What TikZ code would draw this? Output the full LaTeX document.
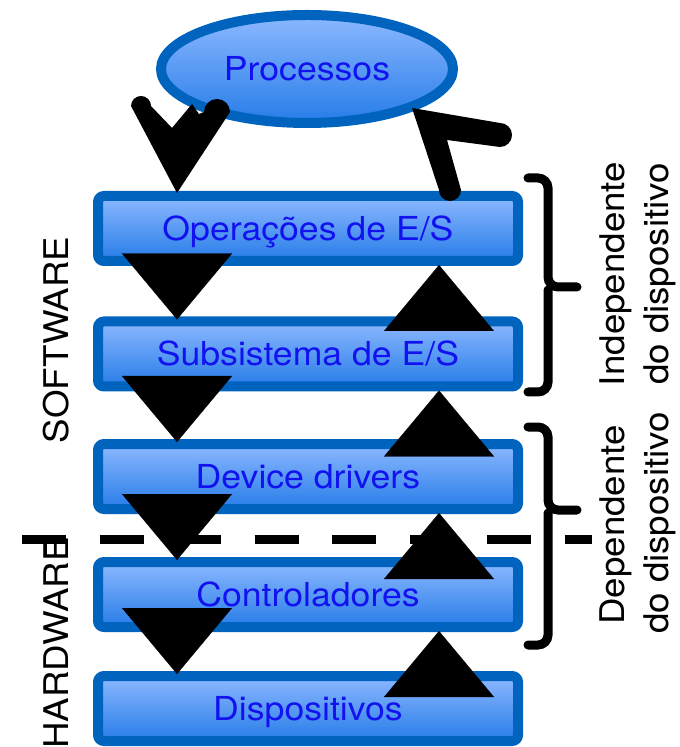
\documentclass[tikz,border=0pt]{standalone}
\usepackage{fontspec}
\setmainfont{TeX Gyre Heros}[FakeStretch=1.08]
\usetikzlibrary{arrows.meta,shapes.geometric,calc}

\definecolor{borda}{RGB}{0,99,190}
\definecolor{claro}{RGB}{140,184,255}
\definecolor{escuro}{RGB}{38,124,232}
\definecolor{texto}{RGB}{18,18,240}

\tikzset{
  camada/.style={rectangle, rounded corners=3pt, draw=borda, line width=5pt,
    top color=claro, bottom color=escuro,
    minimum width=210pt, minimum height=32.5pt,
    inner sep=0pt, outer sep=0pt, text=texto,
    font=\fontsize{16.5}{20}\selectfont, text height=12pt, text depth=0pt},
  processo/.style={camada, ellipse, minimum width=146pt, minimum height=54pt},
  rotulo/.style={rotate=90, inner sep=0pt,
    font=\fontsize{17}{20}\selectfont, text height=12pt, text depth=0pt},
  desce/.style={line width=0.1pt, -{Triangle[width=55pt,length=33pt]}},
  sobe/.style={desce},
  chave/.style={line width=4.5pt, line cap=round, rounded corners=5pt},
  tracejado/.style={line width=4.5pt, dash pattern=on 22pt off 16.75pt},
}

\begin{document}
\begin{tikzpicture}[x=0.5pt,y=-0.5pt]
\useasboundingbox (0,0) rectangle (679,747);

% camadas
\node[processo] (proc) at (307,69) {Processos};
\node[camada] (op) at (308,228.5) {Operações de E/S};
\node[camada] (sub) at (308,354) {Subsistema de E/S};
\node[camada] (drv) at (308,476.5) {Device drivers};
\node[camada] (ctrl) at (308,594.5) {Controladores};
\node[camada] (disp) at (308,708.5) {Dispositivos};

% software / hardware
\node[rotulo] (soft) at (56,340) {SOFTWARE};
\node[rotulo] (hard) at (56.5,643) {HARDWARE};
\draw[line width=1.5pt] (45,536) -- (45,557);
\draw[tracejado] (22,539) -- (592,539);

% setas
\coordinate (esq) at (177,0);
\coordinate (dir) at (439,0);
\draw[desce] (op.south -| esq) -- ($(sub.north -| esq)+(0,-2)$);
\draw[desce] (sub.south -| esq) -- ($(drv.north -| esq)+(0,-2)$);
\draw[desce] (drv.south -| esq) -- ($(ctrl.north -| esq)+(0,-2)$);
\draw[desce] (ctrl.south -| esq) -- ($(disp.north -| esq)+(0,-2)$);
\draw[sobe] (sub.north -| dir) -- ($(op.south -| dir)+(0,4)$);
\draw[sobe] (drv.north -| dir) -- ($(sub.south -| dir)+(0,4)$);
\draw[sobe] (ctrl.north -| dir) -- ($(drv.south -| dir)+(0,4)$);
\draw[sobe] (disp.north -| dir) -- ($(ctrl.south -| dir)+(0,4)$);

% setas de cima
\fill (131,106) -- (177,193) -- (230,112) arc[start angle=0,end angle=-180,radius=13]
  -- (199,114) -- (192,104) -- (172,128) -- (151,106)
  arc[start angle=0,end angle=-180,radius=10] -- cycle;
\fill (412,108) -- (500,123) arc[start angle=-90,end angle=90,radius=12]
  -- (447,140) -- (461,190) arc[start angle=0,end angle=180,radius=11] -- cycle;

% chaves
\draw[chave] (528,178) -- (548,178) -- (548,287) -- (577,287);
\draw[chave] (548,290) -- (548,392) -- (528,392);
\draw[chave] (528,427) -- (548,427) -- (548,510) -- (577,510);
\draw[chave] (548,513) -- (548,645) -- (528,645);

\node[rotulo] (ind) at (612,274) {Independente};
\node[rotulo] (ind2) at (656,274) {do dispositivo};
\node[rotulo] (dep) at (612,525) {Dependente};
\node[rotulo] (dep2) at (656,523) {do dispositivo};
\end{tikzpicture}
\end{document}
